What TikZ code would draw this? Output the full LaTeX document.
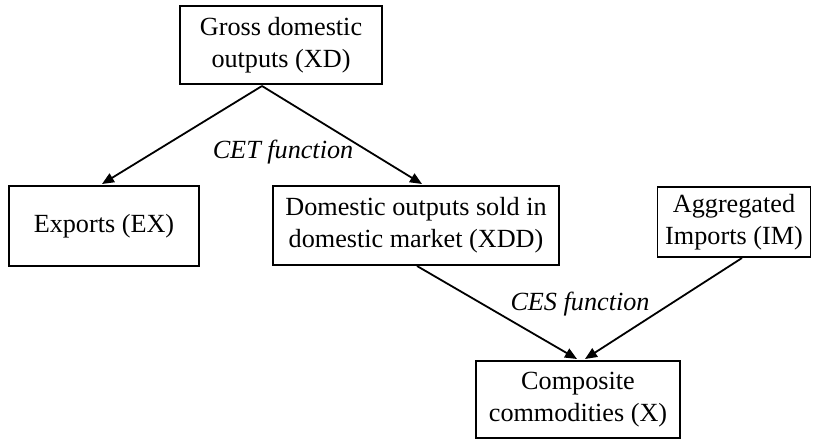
\documentclass[tikz,border=0pt]{standalone}
\usepackage{fontspec}
\setmainfont{Liberation Serif}
\usetikzlibrary{arrows.meta}
\begin{document}
\begin{tikzpicture}[x=1pt,y=-1pt,
  box/.style={draw,line width=1.8pt,align=center,inner sep=0pt,
    font=\fontsize{26.2}{32}\selectfont},
  conn/.style={line width=1.8pt,-{Triangle[length=12pt,width=10pt]}},
  lbl/.style={font=\fontsize{26.2}{32}\selectfont\itshape}]
\useasboundingbox (0,0) rectangle (813,439);
\node[box,minimum width=202pt,minimum height=78pt] (XD) at (281,45) {Gross domestic\\outputs (XD)};
\node[box,minimum width=190pt,minimum height=80pt] (EX) at (104,226) {Exports (EX)};
\node[box,minimum width=286pt,minimum height=79pt] (XDD) at (416,225.5) {Domestic outputs sold in\\domestic market (XDD)};
\node[box,minimum width=153pt,minimum height=70pt] (IM) at (734,222) {Aggregated\\Imports (IM)};
\node[box,minimum width=204pt,minimum height=77pt] (X) at (578,399.5) {Composite\\commodities (X)};
\coordinate (apex) at (262,86);
\coordinate (exin) at (102,184);
\coordinate (xddin) at (422,184);
\coordinate (xddout) at (417,266);
\coordinate (imout) at (742,258);
\coordinate (xinl) at (577,359);
\coordinate (xinr) at (585,359);
\draw[conn] (apex) -- (exin);
\draw[conn] (apex) -- (xddin);
\draw[conn] (xddout) -- (xinl);
\draw[conn] (imout) -- (xinr);
\node[lbl] (cet) at (283,152) {CET function};
\node[lbl] (ces) at (580,304) {CES function};
\end{tikzpicture}
\end{document}
